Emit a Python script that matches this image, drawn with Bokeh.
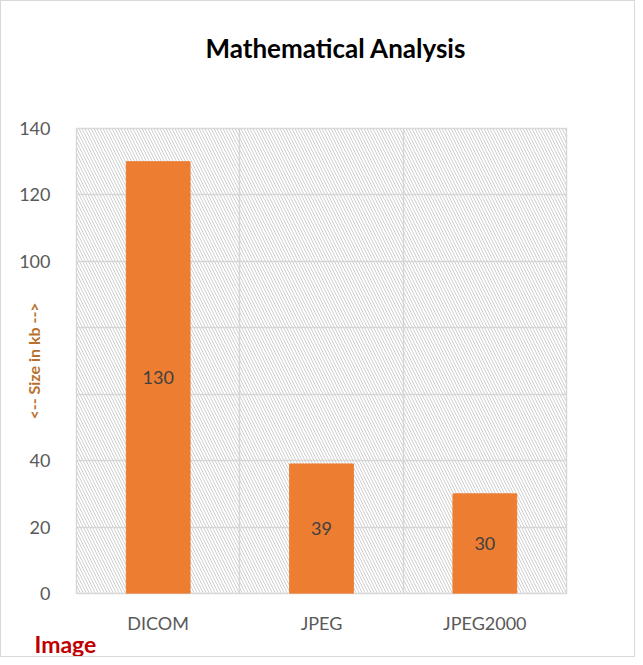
from bokeh.plotting import figure
from bokeh.models import (BoxAnnotation, FixedTicker, LabelSet, Title,
                          ColumnDataSource, Range1d)
from bokeh.core.properties import value
from bokeh.embed import file_html
from bokeh.resources import INLINE

# ---- data ----
categories = ["DICOM", "JPEG", "JPEG2000"]
sizes_kb = [130, 39, 30]
y_ticks = [0, 20, 40, 60, 80, 100, 120, 140]
hidden_y_ticks = [60, 80]   # covered by the axis title in the original
chart_title = "Mathematical Analysis"
x_title = "Image"
y_title = "<-- Size in kb -->"

xs = [i + 0.5 for i in range(len(categories))]
src = ColumnDataSource(dict(
    x=xs,
    top=sizes_kb,
    mid=[v / 2 for v in sizes_kb],
    label=[str(v) for v in sizes_kb],
))

FONT = "Lato"
GRID = "#d9d9d9"

p = figure(width=635, height=657,
           x_range=Range1d(0, len(categories)), y_range=Range1d(y_ticks[0], y_ticks[-1]),
           output_backend="svg", toolbar_location=None,
           min_border_left=75, min_border_right=70,
           min_border_top=127, min_border_bottom=65,
           background_fill_color="white", border_fill_color="white")
p.styles = {"border": "1px solid #d9d9d9"}
p.title = None

# spacer between frame and chart title, then the chart title (outermost)
p.add_layout(Title(text=" ", text_font_size="56px", standoff=0), "above")
p.add_layout(Title(text=chart_title, align="left", offset=129, standoff=0,
                   text_font=FONT, text_font_size="26px", text_font_style="bold",
                   text_color="#000000"), "above")

# hatched plot area
p.add_layout(BoxAnnotation(left=0, right=len(categories), bottom=y_ticks[0], top=y_ticks[-1],
                           fill_alpha=0, line_alpha=0,
                           hatch_pattern="\\", hatch_color="#cfcfcf",
                           hatch_scale=6, hatch_weight=1, level="underlay"))

p.vbar(x="x", top="top", width=0.39, source=src,
       fill_color="#ed7d31", line_color="#ed7d31")

p.add_layout(LabelSet(x="x", y="mid", text="label", source=src,
                      text_align="center", text_baseline="middle",
                      text_font=value(FONT), text_font_size=value("18px"),
                      text_color="#404040"))

# grids
p.xgrid.ticker = FixedTicker(ticks=list(range(1, len(categories))))
p.ygrid.ticker = FixedTicker(ticks=y_ticks)
for g in (p.xgrid, p.ygrid):
    g.grid_line_color = GRID
    g.grid_line_width = 1.5
p.outline_line_color = GRID
p.outline_line_width = 1.5

# axes
for ax in (p.xaxis, p.yaxis):
    ax.axis_line_color = None
    ax.major_tick_line_color = None
    ax.minor_tick_line_color = None
    ax.major_label_text_font = FONT
    ax.major_label_text_font_size = "18px"
    ax.major_label_text_color = "#595959"

p.xaxis.ticker = FixedTicker(ticks=xs)
p.xaxis.major_label_overrides = {x: c for x, c in zip(xs, categories)}
p.xaxis.major_label_standoff = 12

p.yaxis.ticker = FixedTicker(ticks=y_ticks)
p.yaxis.major_label_overrides = {t: "" for t in hidden_y_ticks}
p.yaxis.major_label_standoff = 20
p.yaxis.axis_label = y_title
p.yaxis.axis_label_text_font = FONT
p.yaxis.axis_label_text_font_size = "16px"
p.yaxis.axis_label_text_font_style = "bold"
p.yaxis.axis_label_text_color = "#b8702e"
p.yaxis.axis_label_standoff = -27

# x title, bottom-left
p.add_layout(Title(text=x_title, align="left", offset=-42, standoff=-18,
                   text_font=FONT, text_font_size="23px", text_font_style="bold",
                   text_color="#c00000"), "below")

open("out.html", "w").write(file_html(p, INLINE))
